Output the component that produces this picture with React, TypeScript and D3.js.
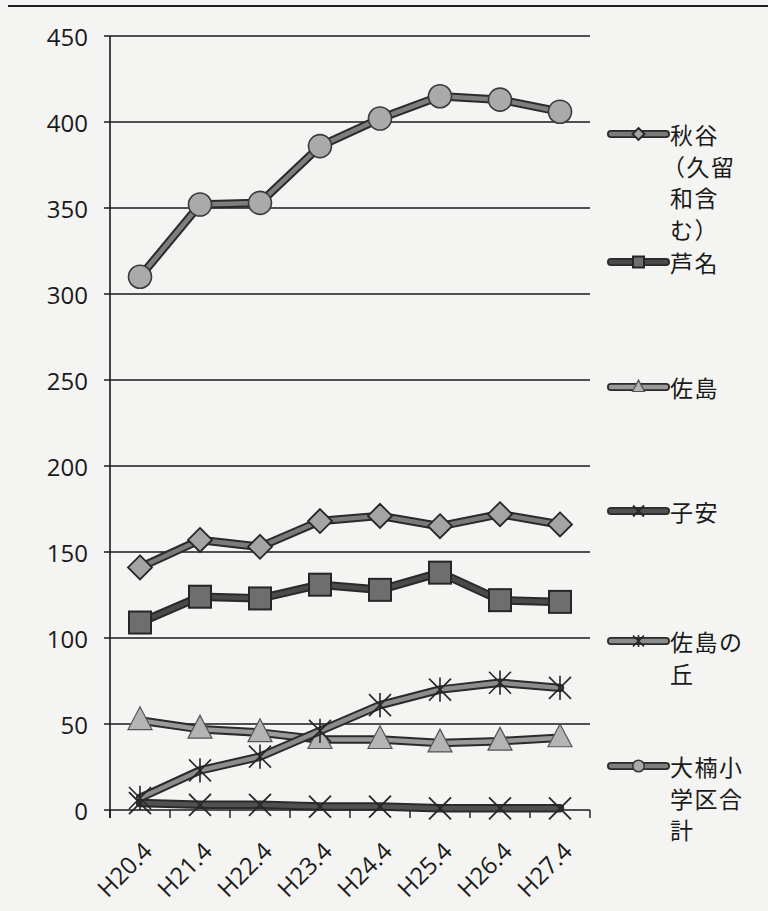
import React from "react";
import * as d3 from "d3";

const categories = ["H20.4", "H21.4", "H22.4", "H23.4", "H24.4", "H25.4", "H26.4", "H27.4"];
const akiya = [141, 157, 153, 168, 171, 165, 172, 166];
const ashina = [109, 124, 123, 131, 128, 138, 122, 121];
const sajima = [52, 47, 45, 41, 41, 39, 40, 42];
const koyasu = [4, 3, 3, 2, 2, 1, 1, 1];
const sajimaOka = [7, 23, 31, 46, 61, 70, 74, 71];
const ogusuTotal = [310, 352, 353, 386, 402, 415, 413, 406];
const yTicks = [0, 50, 100, 150, 200, 250, 300, 350, 400, 450];

type Marker = "diamond" | "square" | "triangle" | "x" | "star" | "circle";
interface Series {
  name: string[];
  values: number[];
  marker: Marker;
  inner: string;
  fill: string;
  legendY: number;
}

const series: Series[] = [
  { name: ["秋谷", "（久留", "和含", "む）"], values: akiya, marker: "diamond", inner: "#7a7a7a", fill: "#a4a4a4", legendY: 134 },
  { name: ["芦名"], values: ashina, marker: "square", inner: "#4a4a4a", fill: "#6e6e6e", legendY: 262 },
  { name: ["佐島"], values: sajima, marker: "triangle", inner: "#9a9a9a", fill: "#b4b4b4", legendY: 387 },
  { name: ["子安"], values: koyasu, marker: "x", inner: "#505050", fill: "#505050", legendY: 511 },
  { name: ["佐島の", "丘"], values: sajimaOka, marker: "star", inner: "#8c8c8c", fill: "#8c8c8c", legendY: 641 },
  { name: ["大楠小", "学区合", "計"], values: ogusuTotal, marker: "circle", inner: "#7e7e7e", fill: "#aaaaaa", legendY: 766 },
];

const W = 768;
const H = 911;
const x = d3.scaleBand<string>().domain(categories).range([110, 590]);
const y = d3.scaleLinear().domain([0, 450]).range([810, 36]);
const cx = (c: string) => (x(c) as number) + x.bandwidth() / 2;

function MarkerShape({ m, px, py, fill, scale = 1 }: { m: Marker; px: number; py: number; fill: string; scale?: number }) {
  const s = scale;
  const stroke = "#262626";
  if (m === "diamond") {
    const r = 12 * s;
    return <path d={`M${px},${py - r}L${px + r},${py}L${px},${py + r}L${px - r},${py}Z`} fill={fill} stroke={stroke} strokeWidth={1.8} />;
  }
  if (m === "square") {
    const r = 11 * s;
    return <rect x={px - r} y={py - r} width={2 * r} height={2 * r} fill={fill} stroke={stroke} strokeWidth={2} />;
  }
  if (m === "triangle") {
    const r = 12 * s;
    return <path d={`M${px},${py - r * 1.15}L${px + r},${py + r * 0.75}L${px - r},${py + r * 0.75}Z`} fill={fill} stroke="#555" strokeWidth={1.2} />;
  }
  if (m === "x") {
    const r = 11 * s;
    return (
      <path d={`M${px - r},${py - r}L${px + r},${py + r}M${px - r},${py + r}L${px + r},${py - r}`} stroke={stroke} strokeWidth={1.8} fill="none" />
    );
  }
  if (m === "star") {
    const r = 11 * s;
    return (
      <path
        d={`M${px - r},${py - r}L${px + r},${py + r}M${px - r},${py + r}L${px + r},${py - r}M${px},${py - r * 1.1}L${px},${py + r * 1.1}`}
        stroke={stroke}
        strokeWidth={1.6}
        fill="none"
      />
    );
  }
  const r = 11.5 * s;
  return <circle cx={px} cy={py} r={r} fill={fill} stroke="#3a3a3a" strokeWidth={1.6} />;
}

export default function App() {
  const line = d3
    .line<number>()
    .x((_, i) => cx(categories[i]))
    .y((d) => y(d));

  const numFont = "'Open Sans', 'Liberation Sans', sans-serif";
  const jpFont = "'Noto Sans CJK JP', sans-serif";

  return (
    <svg width={W} height={H} style={{ position: "absolute", left: 0, top: 0, background: "#f4f4f2" }}>
      <rect x={0} y={0} width={W} height={H} fill="#f4f4f2" />
      <line x1={8} x2={W} y1={6} y2={6} stroke="#1e1e1e" strokeWidth={2} />

      {yTicks.map((t) => (
        <g key={t}>
          <line x1={104} x2={590} y1={y(t)} y2={y(t)} stroke="#1a1a1a" strokeWidth={1.6} />
          <text x={88} y={y(t)} textAnchor="end" dominantBaseline="central" fontSize={24} fontFamily={numFont} fill="#1a1a1a">
            {t}
          </text>
        </g>
      ))}
      <line x1={110} x2={110} y1={y(450)} y2={y(0) + 8} stroke="#1a1a1a" strokeWidth={1.6} />
      {d3.range(categories.length + 1).map((i) => {
        const tx = 110 + i * x.bandwidth();
        return <line key={i} x1={tx} x2={tx} y1={y(0)} y2={y(0) + 8} stroke="#1a1a1a" strokeWidth={1.4} />;
      })}

      {categories.map((c) => (
        <text
          key={c}
          transform={`translate(${cx(c) + 7},${846}) rotate(-45)`}
          textAnchor="end"
          dominantBaseline="central"
          fontSize={24}
          fontFamily={numFont}
          fill="#1a1a1a"
        >
          {c}
        </text>
      ))}

      {series.map((s, si) => (
        <g key={si}>
          <path d={line(s.values) || ""} fill="none" stroke="#2a2a2a" strokeWidth={8.5} strokeLinejoin="round" strokeLinecap="round" />
          <path d={line(s.values) || ""} fill="none" stroke={s.inner} strokeWidth={4.5} strokeLinejoin="round" strokeLinecap="round" />
          {s.values.map((v, i) => (
            <MarkerShape key={i} m={s.marker} px={cx(categories[i])} py={y(v)} fill={s.fill} />
          ))}
        </g>
      ))}

      {series.map((s, si) => (
        <g key={"lg" + si}>
          <line x1={611} x2={666} y1={s.legendY} y2={s.legendY} stroke="#2a2a2a" strokeWidth={8} strokeLinecap="round" />
          <line x1={611} x2={666} y1={s.legendY} y2={s.legendY} stroke={s.inner} strokeWidth={4.5} strokeLinecap="round" />
          <MarkerShape m={s.marker} px={638.5} py={s.legendY} fill={s.fill} scale={0.5} />
          {s.name.map((n, li) => (
            <text
              key={li}
              x={n.startsWith("（") ? 662 : 670}
              y={s.legendY + li * 31.5}
              dominantBaseline="central"
              fontSize={23}
              fontFamily={jpFont}
              fill="#1a1a1a"
              letterSpacing={1.5}
            >
              {n}
            </text>
          ))}
        </g>
      ))}
    </svg>
  );
}
